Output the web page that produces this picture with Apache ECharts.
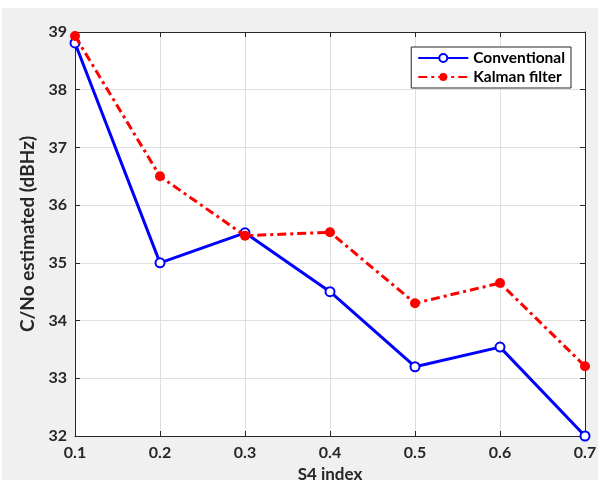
<!DOCTYPE html>
<html>
<head>
<meta charset="utf-8">
<script src="https://cdn.jsdelivr.net/npm/echarts@6/dist/echarts.min.js"></script>
<style>
  html, body { margin: 0; padding: 0; background: #fff; }
  #chart { width: 610px; height: 482px; }
</style>
</head>
<body>
<div id="chart"></div>
<script>
var s4Index = [0.1, 0.2, 0.3, 0.4, 0.5, 0.6, 0.7];
var conventional = [38.81, 35.0, 35.52, 34.5, 33.2, 33.54, 32.0];
var kalman = [38.93, 36.5, 35.47, 35.53, 34.3, 34.65, 33.21];

function pairs(xs, ys) {
    return xs.map(function (x, i) { return [x, ys[i]]; });
}

var chart = echarts.init(document.getElementById('chart'));
var font = 'Lato, "Open Sans", sans-serif';
var labelStyle = { color: '#262626', fontWeight: 'bold', fontSize: 16, fontFamily: font };

var option = {
    backgroundColor: '#fff',
    animation: false,
    graphic: [{
        type: 'rect', z: -10, silent: true,
        shape: { x: 2, y: 8, width: 596, height: 472 },
        style: { fill: '#f0f0f0' }
    }],
    grid: {
        left: 75, right: 25, top: 32, bottom: 46,
        outerBoundsMode: 'none', containLabel: false,
        backgroundColor: '#fff', show: true, borderWidth: 0
    },
    legend: {
        right: 39, top: 47,
        orient: 'vertical',
        backgroundColor: '#fff',
        borderColor: '#262626',
        borderWidth: 1,
        padding: [3, 6, 3, 6],
        itemGap: 3,
        itemWidth: 50,
        itemHeight: 10,
        textStyle: { color: '#000', fontWeight: 'bold', fontSize: 15.5, fontFamily: font },
        data: ['Conventional', 'Kalman filter']
    },
    xAxis: [{
        type: 'value', min: 0.1, max: 0.7, interval: 0.1,
        name: 'S4 index', nameLocation: 'middle', nameGap: 29,
        nameTextStyle: { color: '#262626', fontWeight: 'bold', fontSize: 17, fontFamily: font },
        axisLine: { lineStyle: { color: '#262626', width: 1 } },
        axisTick: { inside: true, length: 5, lineStyle: { color: '#262626' } },
        axisLabel: Object.assign({ margin: 9, formatter: function (v) { return v.toFixed(1); } }, labelStyle),
        splitLine: { show: true, lineStyle: { color: '#dfdfdf' } }
    }, {
        type: 'value', position: 'top', min: 0.1, max: 0.7, interval: 0.1,
        axisLine: { lineStyle: { color: '#262626', width: 1 } },
        axisTick: { inside: true, length: 5, lineStyle: { color: '#262626' } },
        axisLabel: { show: false },
        splitLine: { show: false }
    }],
    yAxis: [{
        type: 'value', min: 32, max: 39, interval: 1,
        name: 'C/No estimated (dBHz)', nameLocation: 'middle', nameGap: 29, nameRotate: 90,
        nameTextStyle: { color: '#262626', fontWeight: 'bold', fontSize: 19, fontFamily: font },
        axisLine: { show: true, lineStyle: { color: '#262626', width: 1 } },
        axisTick: { show: true, inside: true, length: 5, lineStyle: { color: '#262626' } },
        axisLabel: Object.assign({ margin: 8 }, labelStyle),
        splitLine: { show: true, lineStyle: { color: '#dfdfdf' } }
    }, {
        type: 'value', position: 'right', min: 32, max: 39, interval: 1,
        axisLine: { show: true, lineStyle: { color: '#262626', width: 1 } },
        axisTick: { show: true, inside: true, length: 5, lineStyle: { color: '#262626' } },
        axisLabel: { show: false },
        splitLine: { show: false }
    }],
    series: [{
        name: 'Conventional',
        type: 'line',
        data: pairs(s4Index, conventional),
        symbol: 'emptyCircle',
        symbolSize: 9,
        color: '#0000ff',
        lineStyle: { color: '#0000ff', width: 3 },
        itemStyle: { color: '#0000ff', borderColor: '#0000ff', borderWidth: 2 },
        z: 3
    }, {
        name: 'Kalman filter',
        type: 'line',
        data: pairs(s4Index, kalman),
        symbol: 'circle',
        symbolSize: 10,
        color: '#ff0000',
        lineStyle: { color: '#ff0000', width: 3, type: [9, 4, 3, 4] },
        itemStyle: { color: '#ff0000' },
        z: 4
    }]
};

chart.setOption(option);
</script>
</body>
</html>
